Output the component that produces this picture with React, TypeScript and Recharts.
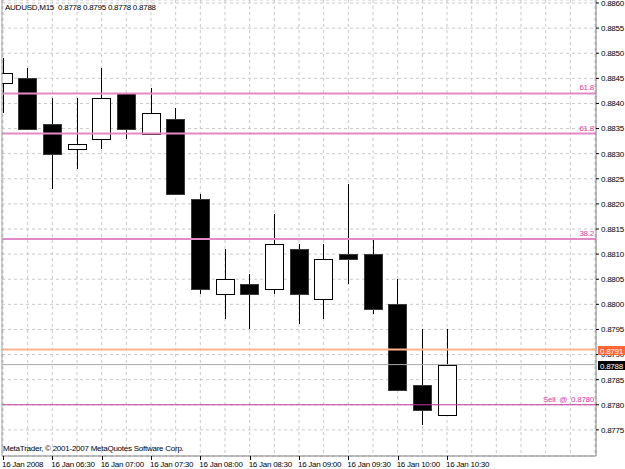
import { Bar, CartesianGrid, ComposedChart, ReferenceLine, XAxis, YAxis } from "recharts";

const FONT = "'Liberation Sans', Arial, sans-serif";
const FS = 8;
const LS = -0.25;

const symbol = "AUDUSD,M15";
const barTimes = [
  "06:00", "06:15", "06:30", "06:45", "07:00", "07:15", "07:30", "07:45", "08:00", "08:15",
  "08:30", "08:45", "09:00", "09:15", "09:30", "09:45", "10:00", "10:15", "10:30",
];
const open = [
  0.8844, 0.8845, 0.8836, 0.8831, 0.8833, 0.8842, 0.8834, 0.8837, 0.8821, 0.8802,
  0.8804, 0.8803, 0.8811, 0.8801, 0.881, 0.881, 0.88, 0.8784, 0.8778,
];
const high = [
  0.8849, 0.8847, 0.8841, 0.8841, 0.8847, 0.8842, 0.8843, 0.8839, 0.8822, 0.8811,
  0.8806, 0.8818, 0.8812, 0.8812, 0.8824, 0.8813, 0.8805, 0.8795, 0.8795,
];
const low = [
  0.8838, 0.8835, 0.8823, 0.8827, 0.8831, 0.8833, 0.8834, 0.8822, 0.8802, 0.8797,
  0.8795, 0.8802, 0.8796, 0.8797, 0.8804, 0.8798, 0.8783, 0.8776, 0.8778,
];
const close = [
  0.8846, 0.8835, 0.883, 0.8832, 0.8841, 0.8835, 0.8838, 0.8822, 0.8803, 0.8805,
  0.8802, 0.8812, 0.8802, 0.8809, 0.8809, 0.8799, 0.8783, 0.8779, 0.8788,
];
// one label every second bar (30 minutes)
const timeLabels = [
  "16 Jan 2008", "16 Jan 06:30", "16 Jan 07:00", "16 Jan 07:30", "16 Jan 08:00",
  "16 Jan 08:30", "16 Jan 09:00", "16 Jan 09:30", "16 Jan 10:00", "16 Jan 10:30",
];
const emptySlots = 6;
const priceTicks = [
  0.8775, 0.878, 0.8785, 0.879, 0.8795, 0.88, 0.8805, 0.881, 0.8815, 0.882,
  0.8825, 0.883, 0.8835, 0.884, 0.8845, 0.885, 0.8855, 0.886,
];
const fiboPrices = [0.8842, 0.8834, 0.8813];
const fiboNames = ["61.8", "61.8", "38.2"];
const askPrice = 0.8791;
const bidPrice = 0.8788;
const sellPrice = 0.878;

const data = barTimes.map((t, i) => ({
  i,
  time: t,
  open: open[i],
  high: high[i],
  low: low[i],
  close: close[i],
  range: [low[i], high[i]],
}));

const xTicks = Array.from({ length: barTimes.length + emptySlots }, (_, i) => i);
const last = data.length - 1;
const yDomain = [0.87698, 0.88606];

const Candle = (props: any) => {
  const { x, width, index } = props;
  let { y, height } = props;
  if (height < 0) {
    y += height;
    height = -height;
  }
  const d = props.payload && props.payload.open !== undefined ? props.payload : data[index];
  const unit = height / (d.high - d.low);
  const cx = Math.round(x + width / 2) + 0.5;
  const top = Math.round(y + (d.high - Math.max(d.open, d.close)) * unit) + 0.5;
  const bot = Math.round(y + (d.high - Math.min(d.open, d.close)) * unit) + 0.5;
  const up = d.close >= d.open;
  const left = Math.round(cx - 9.5) + 0.5;
  return (
    <g>
      <line x1={cx} x2={cx} y1={Math.round(y)} y2={Math.round(y + height)} stroke="#000" />
      <rect
        x={left}
        y={top}
        width={18}
        height={Math.max(bot - top, 1)}
        fill={up ? "#fff" : "#000"}
        stroke={up ? "#000" : "#3a3a3a"}
      />
    </g>
  );
};

const TimeTick = (props: any) => {
  const { x, y, payload } = props;
  const v = payload.value;
  if (v % 2 !== 0 || timeLabels[v / 2] === undefined) return null;
  return (
    <g>
      <line x1={Math.round(x) + 0.5} x2={Math.round(x) + 0.5} y1={y} y2={y + 4} stroke="#000" />
      <text x={x - 1} y={y + 11} fontSize={FS} letterSpacing={LS} fontFamily={FONT} fill="#000">
        {timeLabels[v / 2]}
      </text>
    </g>
  );
};

const priceBox = (text: string, bg: string) => (props: any) => {
  const { viewBox } = props;
  const bx = viewBox.x + viewBox.width + 2;
  const by = Math.round(viewBox.y) - 4;
  return (
    <g>
      <rect x={bx} y={by} width={27} height={9} fill={bg} />
      <text x={bx + 2} y={by + 7.5} fontSize={FS} letterSpacing={LS} fontFamily={FONT} fill="#fff">
        {text}
      </text>
    </g>
  );
};

const lineText = (text: string, color: string) => (props: any) => {
  const { viewBox } = props;
  return (
    <text
      x={viewBox.x + viewBox.width - 2}
      y={viewBox.y - 3}
      textAnchor="end"
      fontSize={FS}
      letterSpacing={LS}
      fontFamily={FONT}
      fill={color}
      style={{ whiteSpace: "pre" }}
    >
      {text}
    </text>
  );
};

export default function App() {
  return (
    <div style={{ position: "absolute", left: 0, top: 0, width: 625, height: 469, background: "#fff" }}>
      <ComposedChart width={625} height={469} data={data} margin={{ top: 0, right: 0, bottom: 0, left: 1 }}>
        <CartesianGrid stroke="#c8c8c8" strokeDasharray="3 3" />
        <XAxis
          dataKey="i"
          type="number"
          domain={[-0.04, 24.04]}
          ticks={xTicks}
          interval={0}
          allowDataOverflow
          height={13}
          tickSize={0}
          tickMargin={0}
          tickLine={false}
          axisLine={{ stroke: "#808080" }}
          tick={<TimeTick />}
        />
        <YAxis
          orientation="right"
          domain={yDomain}
          ticks={priceTicks}
          interval={0}
          allowDataOverflow
          width={29}
          tickSize={3}
          tickMargin={2}
          tickLine={{ stroke: "#000" }}
          axisLine={{ stroke: "#808080" }}
          tick={{ fontSize: FS, fontFamily: FONT, fill: "#000", letterSpacing: LS }}
          tickFormatter={(v: number) => v.toFixed(4)}
        />
        <YAxis
          yAxisId="frame"
          orientation="left"
          domain={yDomain}
          width={1}
          tick={false}
          tickLine={false}
          axisLine={{ stroke: "#a0a0a0" }}
        />
        <Bar dataKey="range" barSize={18} shape={<Candle />} isAnimationActive={false} />
        {fiboPrices.map((p, k) => (
          <ReferenceLine
            key={k}
            y={p}
            stroke="#e38ac6"
            strokeWidth={2}
            label={lineText(fiboNames[k], "#d83c9e")}
          />
        ))}
        <ReferenceLine
          y={askPrice}
          stroke="#ffb48c"
          strokeWidth={2}
          zIndex={3000}
          label={priceBox(askPrice.toFixed(4), "#ff6633")}
        />
        <ReferenceLine
          y={bidPrice}
          stroke="#a8a8a8"
          zIndex={3000}
          label={priceBox(bidPrice.toFixed(4), "#000")}
        />
        <ReferenceLine
          y={sellPrice}
          stroke="#c8359c"
          label={lineText(`Sell  @  ${sellPrice.toFixed(4)}`, "#d83c9e")}
        />
      </ComposedChart>
      <div
        style={{
          position: "absolute",
          left: 5,
          top: 3,
          fontSize: FS,
          letterSpacing: LS,
          lineHeight: "10px",
          fontFamily: FONT,
          color: "#000",
          whiteSpace: "pre",
        }}
      >
        {`${symbol}  ${open[last].toFixed(4)} ${high[last].toFixed(4)} ${low[last].toFixed(4)} ${close[last].toFixed(4)}`}
      </div>
      <div
        style={{
          position: "absolute",
          left: 3,
          top: 444,
          fontSize: FS,
          letterSpacing: LS,
          lineHeight: "10px",
          fontFamily: FONT,
          color: "#000",
          whiteSpace: "pre",
        }}
      >
        MetaTrader, © 2001-2007 MetaQuotes Software Corp.
      </div>
    </div>
  );
}
